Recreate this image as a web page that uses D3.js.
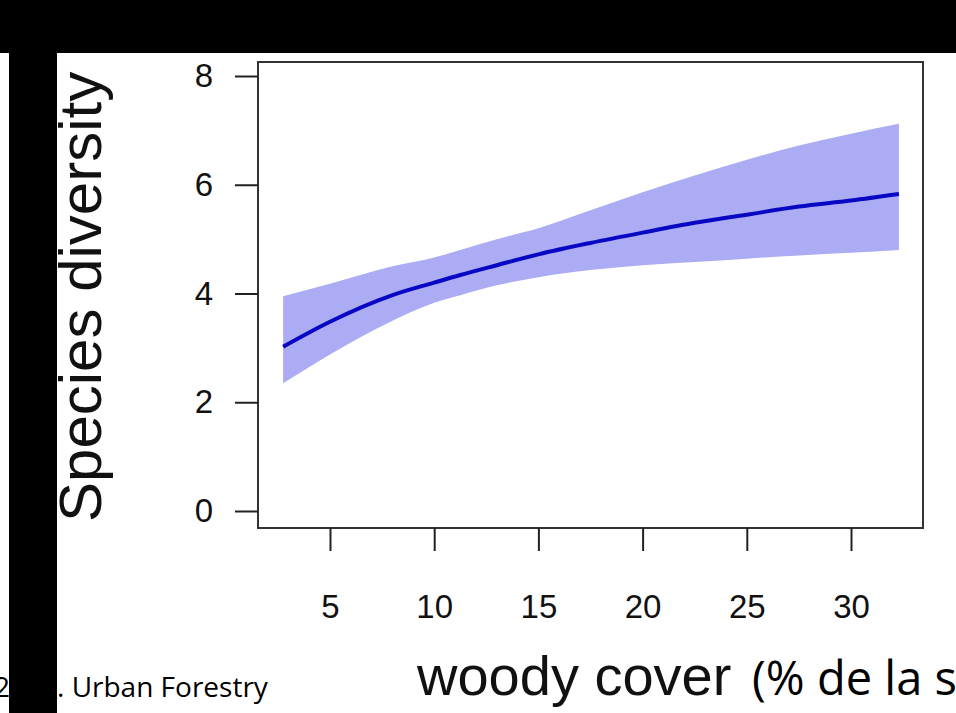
<!DOCTYPE html>
<html>
<head>
<meta charset="utf-8">
<script src="https://cdn.jsdelivr.net/npm/d3@7"></script>
<style>
  body { margin: 0; background: #fff; }
  svg { display: block; }
</style>
</head>
<body>
<div id="chart"></div>
<script>
// woody cover (%) along the fitted curve
var cover = [2.75, 5, 8, 10, 11.25, 13, 15, 17.5, 20, 22.5, 25, 27.5, 30, 32.3];
// fitted species diversity
var fit   = [3.02, 3.48, 3.97, 4.2, 4.34, 4.52, 4.72, 4.93, 5.12, 5.3, 5.45, 5.6, 5.71, 5.83];
// confidence band
var lower = [2.35, 2.88, 3.5, 3.83, 3.97, 4.15, 4.3, 4.43, 4.52, 4.58, 4.64, 4.7, 4.75, 4.8];
var upper = [3.95, 4.18, 4.5, 4.66, 4.8, 5.0, 5.2, 5.53, 5.86, 6.17, 6.46, 6.72, 6.94, 7.12];

var xTicks = [5, 10, 15, 20, 25, 30];
var yTicks = [0, 2, 4, 6, 8];

var width = 956, height = 713;
var box = {left: 258, right: 923, top: 62, bottom: 528};

var svg = d3.select("#chart")
    .append("svg")
    .attr("width", width)
    .attr("height", height);

var x = d3.scaleLinear().domain([5, 30]).range([330, 851]);
var y = d3.scaleLinear().domain([0, 8]).range([511, 76]);

var pts = cover.map(function(c, i){
    return {c: c, fit: fit[i], lo: lower[i], hi: upper[i]};
});

// band
var band = d3.area()
    .x(function(d){ return x(d.c); })
    .y0(function(d){ return y(d.lo); })
    .y1(function(d){ return y(d.hi); })
    .curve(d3.curveMonotoneX);

svg.append("path")
    .datum(pts)
    .attr("d", band)
    .style("fill", "#acacf5");

var line = d3.line()
    .x(function(d){ return x(d.c); })
    .y(function(d){ return y(d.fit); })
    .curve(d3.curveMonotoneX);

svg.append("path")
    .datum(pts)
    .attr("d", line)
    .style("fill", "none")
    .style("stroke", "#0808c4")
    .style("stroke-width", 4);

// frame
svg.append("rect")
    .attr("x", box.left)
    .attr("y", box.top)
    .attr("width", box.right - box.left)
    .attr("height", box.bottom - box.top)
    .style("fill", "none")
    .style("stroke", "#333")
    .style("stroke-width", 2);

var yAxis = svg.append("g")
    .attr("transform", "translate(" + box.left + ",0)")
    .call(d3.axisLeft(y).tickValues(yTicks).tickSizeInner(23).tickSizeOuter(0).tickPadding(22));

var xAxis = svg.append("g")
    .attr("transform", "translate(0," + box.bottom + ")")
    .call(d3.axisBottom(x).tickValues(xTicks).tickSizeInner(23).tickSizeOuter(0).tickPadding(44));

[yAxis, xAxis].forEach(function(g){
    g.select(".domain").remove();
    g.selectAll(".tick line").style("stroke", "#222").style("stroke-width", 2);
    g.selectAll(".tick text")
        .style("font-family", "Liberation Sans, Arial, sans-serif")
        .style("font-size", "33px")
        .style("fill", "#111");
});

// axis titles
svg.append("text")
    .attr("transform", "translate(101,522) rotate(-90)")
    .attr("text-anchor", "start")
    .style("font-family", "Liberation Sans, Arial, sans-serif")
    .style("font-size", "60px")
    .style("fill", "#111")
    .text("Species diversity");

svg.append("text")
    .attr("x", 417)
    .attr("y", 695)
    .style("font-family", "Liberation Sans, Arial, sans-serif")
    .style("font-size", "56px")
    .style("fill", "#111")
    .text("woody cover");

svg.append("text")
    .attr("x", 752)
    .attr("y", 695)
    .style("font-family", "Open Sans, sans-serif")
    .style("font-size", "47px")
    .style("fill", "#000")
    .text("(% de la superficie)");

// slide overlay
svg.append("text")
    .attr("x", -6)
    .attr("y", 697)
    .style("font-family", "Open Sans, sans-serif")
    .style("font-size", "28px")
    .style("fill", "#000")
    .text("2016");

svg.append("text")
    .attr("x", 57)
    .attr("y", 697)
    .style("font-family", "Open Sans, sans-serif")
    .style("font-size", "28px")
    .style("fill", "#000")
    .text(". Urban Forestry");

svg.append("rect")
    .attr("x", 0).attr("y", 0)
    .attr("width", width).attr("height", 53)
    .style("fill", "#000");

svg.append("rect")
    .attr("x", 9).attr("y", 0)
    .attr("width", 48).attr("height", height)
    .style("fill", "#000");
</script>
</body>
</html>
